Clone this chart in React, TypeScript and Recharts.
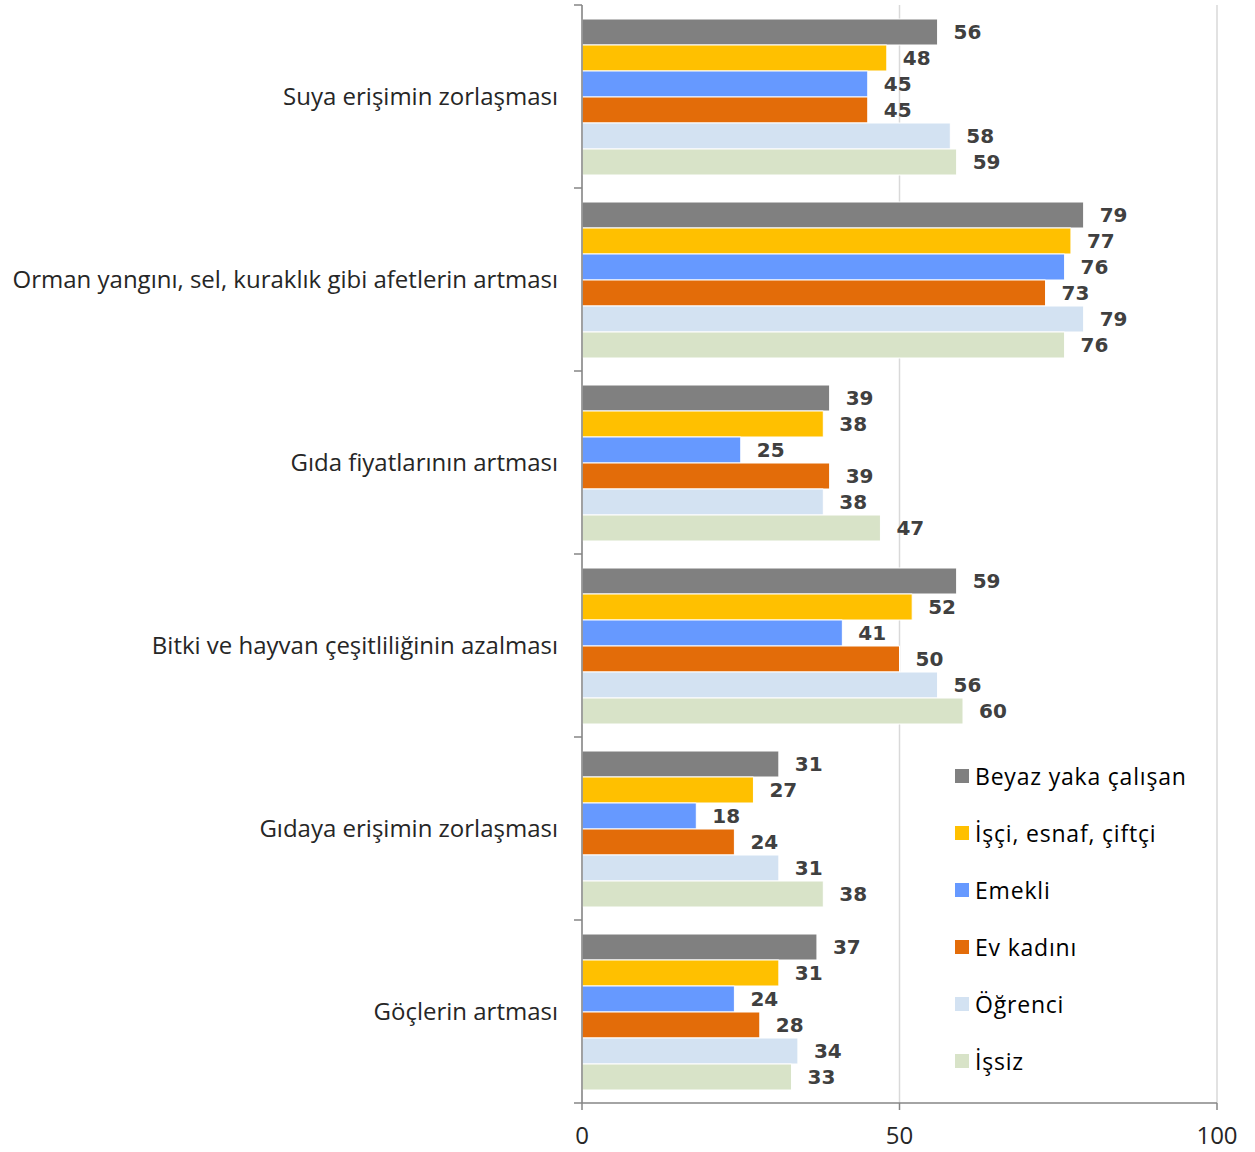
import { BarChart, Bar, XAxis, YAxis, CartesianGrid, Legend, LabelList } from 'recharts';

const categories = [
  'Suya erişimin zorlaşması',
  'Orman yangını, sel, kuraklık gibi afetlerin artması',
  'Gıda fiyatlarının artması',
  'Bitki ve hayvan çeşitliliğinin azalması',
  'Gıdaya erişimin zorlaşması',
  'Göçlerin artması',
];

const beyazYaka = [56, 79, 39, 59, 31, 37];
const isci = [48, 77, 38, 52, 27, 31];
const emekli = [45, 76, 25, 41, 18, 24];
const evKadini = [45, 73, 39, 50, 24, 28];
const ogrenci = [58, 79, 38, 56, 31, 34];
const issiz = [59, 76, 47, 60, 38, 33];

const xTicks = [0, 50, 100];

const series = [
  { key: 'beyaz', name: 'Beyaz yaka çalışan', color: '#808080', values: beyazYaka },
  { key: 'isci', name: 'İşçi, esnaf, çiftçi', color: '#FFC000', values: isci },
  { key: 'emekli', name: 'Emekli', color: '#6699FF', values: emekli },
  { key: 'ev', name: 'Ev kadını', color: '#E36C09', values: evKadini },
  { key: 'ogrenci', name: 'Öğrenci', color: '#D3E2F2', values: ogrenci },
  { key: 'issiz', name: 'İşsiz', color: '#D8E3C8', values: issiz },
];

const data = categories.map((name, i) => {
  const row: Record<string, string | number> = { name };
  series.forEach((s) => {
    row[s.key] = s.values[i];
  });
  return row;
});

const FONT = '"Open Sans", Roboto, sans-serif';
const LABEL_FONT = '"DejaVu Sans", sans-serif';
const CHART_W = 1255;
const CHART_H = 1152;
const MARGIN = { top: 5, right: 38, bottom: 9, left: 0 };
const X_AXIS_H = 40;
const PLOT_H = CHART_H - MARGIN.top - MARGIN.bottom - X_AXIS_H;
const BAND = PLOT_H / categories.length;
const TICK_MARGIN = 24;

// category label plus the short tick marks sitting on band edges
const CategoryTick = (props: any) => {
  const { x, y, payload, index } = props;
  const axisX = x + TICK_MARGIN;
  const isLast = index === categories.length - 1;
  return (
    <g>
      <line x1={axisX - 8} x2={axisX} y1={y - BAND / 2} y2={y - BAND / 2} stroke="#868686" strokeWidth={1.5} />
      {isLast && (
        <line x1={axisX - 8} x2={axisX} y1={y + BAND / 2} y2={y + BAND / 2} stroke="#868686" strokeWidth={1.5} />
      )}
      <text x={x} y={y} dy="0.35em" textAnchor="end" fill="#262626" fontSize={24} fontFamily={FONT}>
        {payload.value}
      </text>
    </g>
  );
};

const LegendContent = () => (
  <div style={{ fontFamily: FONT, fontSize: 23, color: '#000', letterSpacing: 0.8 }}>
    {series.map((s) => (
      <div key={s.key} style={{ display: 'flex', alignItems: 'center', height: 57 }}>
        <span style={{ display: 'inline-block', width: 14, height: 14, background: s.color, marginRight: 6 }} />
        <span>{s.name}</span>
      </div>
    ))}
  </div>
);

export default function App() {
  return (
    <div style={{ position: 'absolute', left: 0, top: 0, background: '#fff' }}>
      <BarChart
        width={CHART_W}
        height={CHART_H}
        data={data}
        layout="vertical"
        margin={MARGIN}
        barGap={0}
        barSize={26}
      >
        <CartesianGrid horizontal={false} stroke="#D9D9D9" strokeWidth={1.5} />
        <XAxis
          type="number"
          domain={[0, 100]}
          ticks={xTicks}
          height={X_AXIS_H}
          stroke="#868686"
          strokeWidth={1.5}
          tickSize={7}
          tickMargin={17}
          tick={{ fill: '#262626', fontSize: 24, fontFamily: FONT }}
        />
        <YAxis
          type="category"
          dataKey="name"
          width={582}
          stroke="#868686"
          strokeWidth={1.5}
          tickLine={false}
          tickSize={0}
          tickMargin={TICK_MARGIN}
          tick={<CategoryTick />}
          interval={0}
        />
        <Legend
          layout="vertical"
          align="center"
          verticalAlign="middle"
          content={<LegendContent />}
          wrapperStyle={{ left: 955, top: 747, width: 295 }}
        />
        {series.map((s) => (
          <Bar key={s.key} dataKey={s.key} name={s.name} fill={s.color} stroke="#fff" strokeWidth={1} isAnimationActive={false}>
            <LabelList
              dataKey={s.key}
              position="right"
              offset={16}
              fill="#404040"
              fontSize={20}
              fontWeight="bold"
              fontFamily={LABEL_FONT}
            />
          </Bar>
        ))}
      </BarChart>
    </div>
  );
}
